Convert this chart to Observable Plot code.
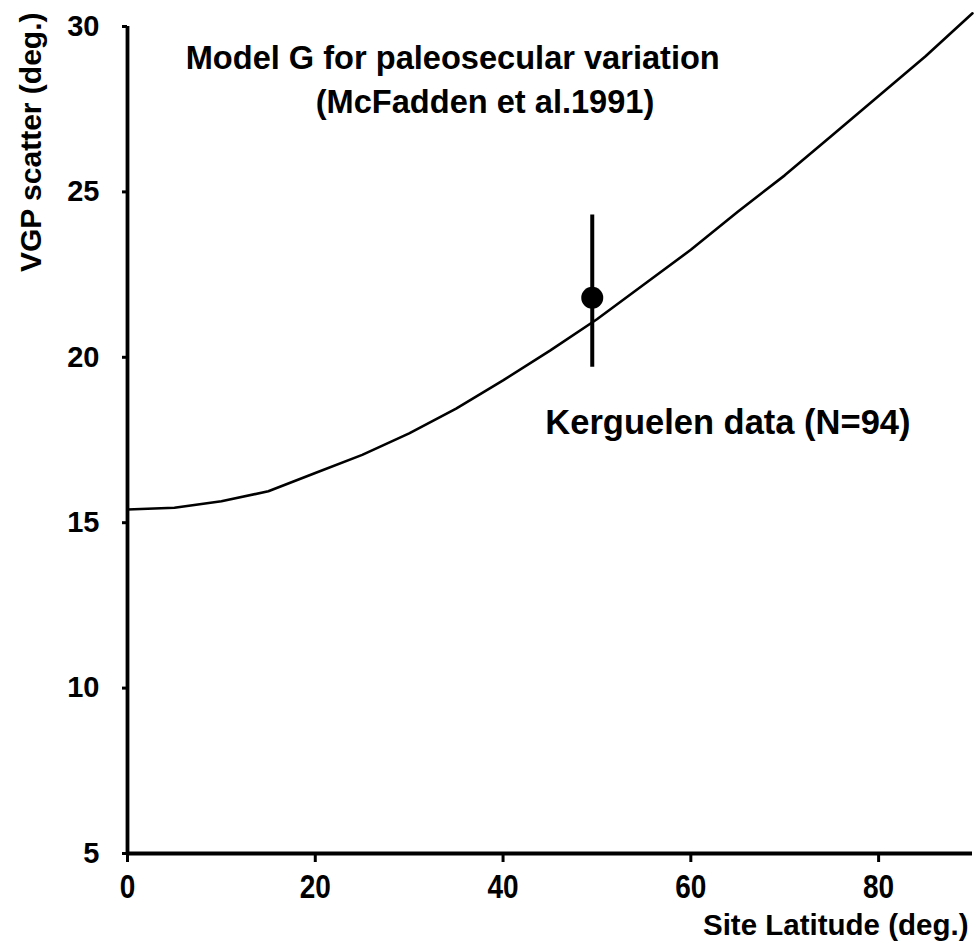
<!DOCTYPE html>
<html>
<head>
<meta charset="utf-8">
<script src="https://cdn.jsdelivr.net/npm/d3@7"></script>
<script src="https://cdn.jsdelivr.net/npm/@observablehq/plot@0.6"></script>
<style>
  html, body { margin: 0; padding: 0; background: #fff; }
  #chart { width: 974px; height: 943px; }
</style>
</head>
<body>
<div id="chart"></div>
<script>
// Model G curve (site latitude vs VGP scatter)
const latitude = [0, 5, 10, 15, 20, 25, 30, 35, 40, 45, 50, 55, 60, 65, 70, 75, 80, 85, 90];
const vgpScatter = [15.4, 15.45, 15.65, 15.95, 16.5, 17.05, 17.7, 18.45, 19.3, 20.2, 21.15, 22.2, 23.25, 24.4, 25.5, 26.7, 27.9, 29.1, 30.4];

// Kerguelen observation
const siteLat = [49.5];
const siteScatter = [21.8];
const siteLow = [19.7];
const siteHigh = [24.3];

const xTicks = [0, 20, 40, 60, 80];
const yTicks = [5, 10, 15, 20, 25, 30];

const titleLines = ["Model G for paleosecular variation", "(McFadden et al.1991)"];
const dataLabel = "Kerguelen data (N=94)";
const xLabel = "Site Latitude (deg.)";
const yLabel = "VGP scatter (deg.)";

const curve = latitude.map((x, i) => ({x, y: vgpScatter[i]}));
const site = siteLat.map((x, i) => ({x, y: siteScatter[i], lo: siteLow[i], hi: siteHigh[i]}));

const FONT = "'Liberation Sans', Arial, Helvetica, sans-serif";

const chart = Plot.plot({
  width: 974,
  height: 943,
  marginLeft: 127,
  marginRight: 2,
  marginTop: 26,
  marginBottom: 90,
  style: {fontFamily: FONT, fontWeight: "bold", background: "white", color: "black", overflow: "visible"},
  x: {domain: [0, 90]},
  y: {domain: [5, 30]},
  marks: [
    Plot.axisX({ticks: xTicks, tickSize: 9, tickPadding: 12, fontSize: 28, fontWeight: "bold", strokeWidth: 3, label: null}),
    Plot.axisY({ticks: yTicks, tickSize: 5, tickPadding: 23, fontSize: 29, fontWeight: "bold", strokeWidth: 3, label: null}),
    Plot.ruleY([5], {stroke: "black", strokeWidth: 3.8}),
    Plot.ruleX([0], {stroke: "black", strokeWidth: 3.8}),
    Plot.line(curve, {x: "x", y: "y", stroke: "black", strokeWidth: 2.6}),
    Plot.ruleX(site, {x: "x", y1: "lo", y2: "hi", stroke: "black", strokeWidth: 4}),
    Plot.dot(site, {x: "x", y: "y", r: 11, fill: "black", stroke: null}),
    Plot.text([titleLines[0]], {x: 6.2, y: 29.03, text: d => d, textAnchor: "start", fontSize: 32.6, fontWeight: "bold", fill: "black"}),
    Plot.text([titleLines[1]], {x: 20.05, y: 27.7, text: d => d, textAnchor: "start", fontSize: 32.6, fontWeight: "bold", fill: "black"}),
    Plot.text([dataLabel], {x: 44.5, y: 18.03, text: d => d, textAnchor: "start", fontSize: 34.5, fontWeight: "bold", fill: "black"}),
    Plot.text([xLabel], {frameAnchor: "bottom-right", text: d => d, textAnchor: "end", dx: -4, dy: 81, fontSize: 29.5, fontWeight: "bold", fill: "black", ariaLabel: "x-title"}),
    Plot.text([yLabel], {frameAnchor: "top-left", text: d => d, rotate: -90, textAnchor: "end", dx: -108, dy: -14, fontSize: 30, fontWeight: "bold", fill: "black"})
  ]
});
// the x-axis lettering of the original is drawn slightly taller than wide
chart.querySelectorAll('g[aria-label="x-axis tick label"] text').forEach(t => {
  t.setAttribute("transform", (t.getAttribute("transform") || "") + " scale(1,1.16)");
});
chart.querySelectorAll('g[aria-label="x-title"] text').forEach(t => {
  t.setAttribute("transform", (t.getAttribute("transform") || "") + " scale(1,1.13)");
});
document.getElementById("chart").appendChild(chart);
</script>
</body>
</html>
